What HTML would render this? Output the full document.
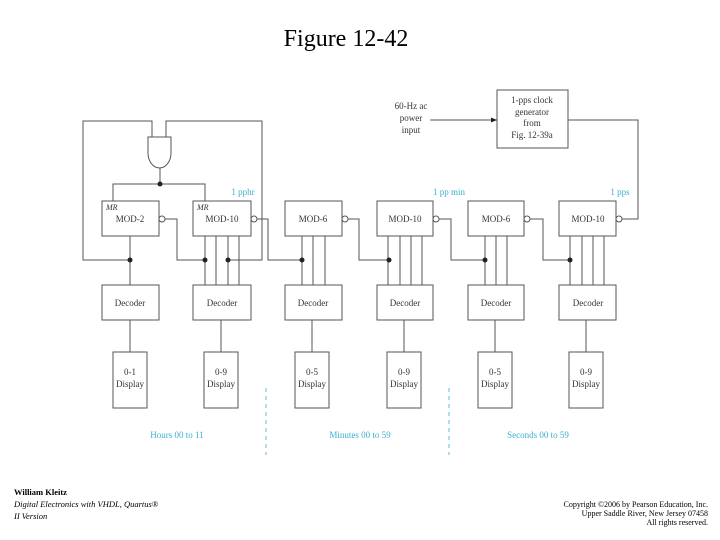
<!DOCTYPE html>
<html><head><meta charset="utf-8"><style>
html,body{margin:0;padding:0;background:#fff;width:720px;height:540px;overflow:hidden}
svg{display:block}
</style></head><body>
<svg width="720" height="540" viewBox="0 0 720 540" xmlns="http://www.w3.org/2000/svg" font-family="Liberation Serif, serif">
<text x="346" y="46" font-size="24" text-anchor="middle" fill="#000">Figure 12-42</text>
<g stroke="#555" stroke-width="1" fill="none">
<rect x="497" y="90" width="71" height="58" fill="#fff"/>
<path d="M430 120 H497"/>
<path d="M568 120 H638 V219 H621"/>
<path d="M148 137 H171 V153 A11.5 15 0 0 1 148 153 Z" fill="#fff"/>
<path d="M152 137 V121 H83 V260 H130"/>
<path d="M166 137 V121 H262 V260 H228"/>
<path d="M160 168 V184"/>
<path d="M113 201 V184 H205 V201"/>
<rect x="102" y="201" width="57" height="35"/>
<rect x="193" y="201" width="58" height="35"/>
<rect x="285" y="201" width="57" height="35"/>
<rect x="377" y="201" width="56" height="35"/>
<rect x="468" y="201" width="56" height="35"/>
<rect x="559" y="201" width="57" height="35"/>
<circle cx="162" cy="219" r="3" fill="#fff"/><path d="M165 219 H177 V260 H205"/>
<circle cx="254" cy="219" r="3" fill="#fff"/><path d="M257 219 H268 V260 H302"/>
<circle cx="345" cy="219" r="3" fill="#fff"/><path d="M348 219 H359 V260 H389"/>
<circle cx="436" cy="219" r="3" fill="#fff"/><path d="M439 219 H451 V260 H485"/>
<circle cx="527" cy="219" r="3" fill="#fff"/><path d="M530 219 H543 V260 H570"/>
<circle cx="619" cy="219" r="3" fill="#fff"/>
<path d="M130 236 V285"/>
<path d="M205 236 V285 M216 236 V285 M228 236 V285 M239 236 V285"/>
<path d="M302 236 V285 M313 236 V285 M325 236 V285"/>
<path d="M388 236 V285 M400 236 V285 M411 236 V285 M422 236 V285"/>
<path d="M485 236 V285 M496 236 V285 M507 236 V285"/>
<path d="M570 236 V285 M582 236 V285 M593 236 V285 M604 236 V285"/>
<rect x="102" y="285" width="57" height="35"/>
<rect x="193" y="285" width="58" height="35"/>
<rect x="285" y="285" width="57" height="35"/>
<rect x="377" y="285" width="56" height="35"/>
<rect x="468" y="285" width="56" height="35"/>
<rect x="559" y="285" width="57" height="35"/>
<path d="M130 320 V352 M221 320 V352 M312 320 V352 M404 320 V352 M495 320 V352 M586 320 V352"/>
<rect x="113" y="352" width="34" height="56"/>
<rect x="204" y="352" width="34" height="56"/>
<rect x="295" y="352" width="34" height="56"/>
<rect x="387" y="352" width="34" height="56"/>
<rect x="478" y="352" width="34" height="56"/>
<rect x="569" y="352" width="34" height="56"/>
</g>
<g fill="#222">
<circle cx="160" cy="184" r="2.5"/>
<circle cx="130" cy="260" r="2.5"/><circle cx="205" cy="260" r="2.5"/><circle cx="228" cy="260" r="2.5"/>
<circle cx="302" cy="260" r="2.5"/><circle cx="389" cy="260" r="2.5"/><circle cx="485" cy="260" r="2.5"/><circle cx="570" cy="260" r="2.5"/>
<path d="M497 120 L491 117.5 V122.5 Z"/>
</g>
<g stroke="#7cc7de" stroke-width="1.2" stroke-dasharray="4,4">
<path d="M266 388 V455"/><path d="M449 388 V455"/>
</g>
<g font-size="9" fill="#333" text-anchor="middle">
<text x="532" y="103">1-pps clock</text><text x="532" y="115">generator</text><text x="532" y="126">from</text><text x="532" y="138">Fig. 12-39a</text>
<text x="411" y="109">60-Hz ac</text><text x="411" y="121">power</text><text x="411" y="133">input</text>
<text x="130" y="222">MOD-2</text><text x="222" y="222">MOD-10</text><text x="313" y="222">MOD-6</text>
<text x="405" y="222">MOD-10</text><text x="496" y="222">MOD-6</text><text x="588" y="222">MOD-10</text>
<text x="130" y="306">Decoder</text><text x="222" y="306">Decoder</text><text x="313" y="306">Decoder</text>
<text x="405" y="306">Decoder</text><text x="496" y="306">Decoder</text><text x="588" y="306">Decoder</text>
<text x="130" y="375">0-1</text><text x="130" y="387">Display</text>
<text x="221" y="375">0-9</text><text x="221" y="387">Display</text>
<text x="312" y="375">0-5</text><text x="312" y="387">Display</text>
<text x="404" y="375">0-9</text><text x="404" y="387">Display</text>
<text x="495" y="375">0-5</text><text x="495" y="387">Display</text>
<text x="586" y="375">0-9</text><text x="586" y="387">Display</text>
</g>
<g font-size="8" font-style="italic" fill="#333"><text x="106" y="210">MR</text><text x="197" y="210">MR</text></g>
<g font-size="9" fill="#3bb0d0" text-anchor="middle">
<text x="243" y="195">1 pphr</text><text x="449" y="195">1 pp min</text><text x="620" y="195">1 pps</text>
<text x="177" y="438">Hours 00 to 11</text><text x="360" y="438">Minutes 00 to 59</text><text x="538" y="438">Seconds 00 to 59</text>
</g>
<g font-size="8.5" fill="#000">
<text x="14" y="495" font-weight="bold">William Kleitz</text>
<text x="14" y="507" font-style="italic">Digital Electronics with VHDL, Quartus® </text>
<text x="14" y="519" font-style="italic">II Version</text>
<g text-anchor="end" font-size="8"><text x="708" y="507">Copyright ©2006 by Pearson Education, Inc.</text>
<text x="708" y="516">Upper Saddle River, New Jersey 07458</text>
<text x="708" y="525">All rights reserved.</text></g>
</g>
</svg>
</body></html>
